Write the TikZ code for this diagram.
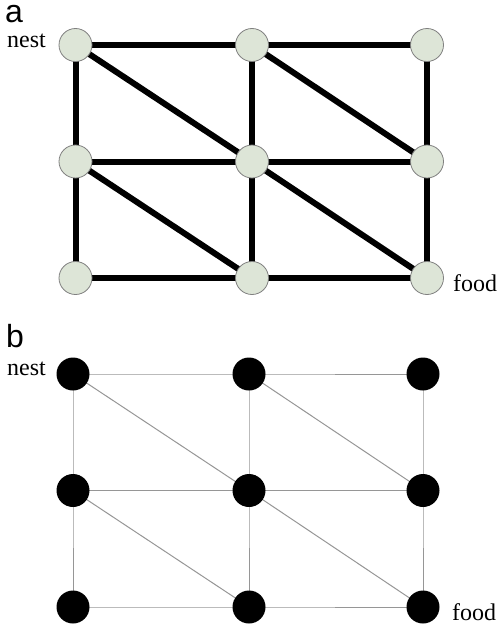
\documentclass[tikz,border=0pt]{standalone}
\usepackage{fontspec}
\setmainfont{Liberation Serif}
\newfontfamily\labfont{Liberation Sans}
\usetikzlibrary{backgrounds}
\definecolor{nodefill}{RGB}{221,229,215}
\definecolor{nodeedge}{RGB}{128,128,128}
\definecolor{thinedge}{RGB}{150,150,150}
\begin{document}
\begin{tikzpicture}[x=1pt,y=-1pt,
  anode/.style={circle,draw=nodeedge,line width=0.8pt,fill=nodefill,minimum size=33pt,inner sep=0pt},
  bnode/.style={circle,fill=black,minimum size=33pt,inner sep=0pt},
  aedge/.style={line width=6pt,black},
  bedge/.style={line width=1pt,thinedge},
  panellabel/.style={font=\labfont\fontsize{32}{32}\selectfont,anchor=base west,inner sep=0pt,text height=0.72em,text depth=0pt},
  txt/.style={font=\fontsize{24}{24}\selectfont,anchor=base west,inner sep=0pt}]
\useasboundingbox (0,0) rectangle (498,629);
% panel a
\foreach \c/\x in {0/75.5,1/252,2/427}{
  \foreach \r/\y in {0/45,1/161.5,2/278}{
    \node[anode] (a\c\r) at (\x,\y) {};
  }
}
\begin{scope}[on background layer]
  \foreach \r in {0,1,2}{
    \draw[aedge] (a0\r.center) -- (a1\r.center) -- (a2\r.center);
  }
  \foreach \c in {0,1,2}{
    \draw[aedge] (a\c0.center) -- (a\c1.center) -- (a\c2.center);
  }
  \draw[aedge] (a00.center) -- (a11.center);
  \draw[aedge] (a10.center) -- (a21.center);
  \draw[aedge] (a01.center) -- (a12.center);
  \draw[aedge] (a11.center) -- (a22.center);
\end{scope}
\node[panellabel] (la) at (5,23) {a};
\node[txt] (nesta) at (7,47) {nest};
\node[txt] (fooda) at (453,291) {food};
% panel b
\foreach \c/\x in {0/73,1/249,2/423}{
  \foreach \r/\y in {0/374,1/490.5,2/607}{
    \node[bnode] (b\c\r) at (\x,\y) {};
  }
}
\begin{scope}[on background layer]
  \foreach \r in {0,1,2}{
    \draw[bedge] (b0\r.center) -- (b1\r.center) -- (b2\r.center);
  }
  \foreach \c in {0,1,2}{
    \draw[bedge] (b\c0.center) -- (b\c1.center) -- (b\c2.center);
  }
  \draw[bedge] (b00.center) -- (b11.center);
  \draw[bedge] (b10.center) -- (b21.center);
  \draw[bedge] (b01.center) -- (b12.center);
  \draw[bedge] (b11.center) -- (b22.center);
\end{scope}
\node[panellabel] (lb) at (6,347) {b};
\node[txt] (nestb) at (7,375) {nest};
\node[txt] (foodb) at (452,620) {food};
\end{tikzpicture}
\end{document}
